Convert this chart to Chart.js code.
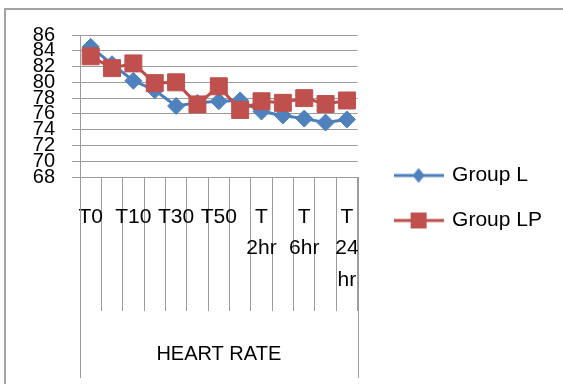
<!DOCTYPE html>
<html>
<head>
<meta charset="utf-8">
<script src="https://cdn.jsdelivr.net/npm/chart.js@4.4.1/dist/chart.umd.min.js"></script>
<style>
  body { margin: 0; background: #fff; }
  #wrap { position: relative; width: 563px; height: 384px; }
  #frame { position: absolute; left: 4px; top: 8px; right: 0; bottom: 0;
           border-left: 2px solid #a3a3a3; border-top: 2px solid #a3a3a3; pointer-events: none; }
</style>
</head>
<body>
<div id="wrap">
  <canvas id="hrChart" width="563" height="384"></canvas>
  <div id="frame"></div>
</div>
<script>
const categories = ['T0', 'T5', 'T10', 'T20', 'T30', 'T40', 'T50', 'T 1hr', 'T 2hr', 'T 4hr', 'T 6hr', 'T 12hr', 'T 24 hr'];
const groupL  = [84.5, 82.3, 80.2, 79.0, 77.0, 77.4, 77.6, 77.7, 76.3, 75.8, 75.4, 74.9, 75.3];
const groupLP = [83.3, 81.8, 82.4, 79.9, 80.0, 77.2, 79.5, 76.5, 77.6, 77.4, 78.0, 77.25, 77.7];
const yMin = 68, yMax = 86, yStep = 2;
const axisTitle = 'HEART RATE';

const gridColor = '#9c9c9c';
Chart.defaults.font.family = '"Liberation Sans", Arial, sans-serif';

// legend sample: short line with the marker in the middle
function legendSample(lineColor, fill, shape) {
    const c = document.createElement('canvas');
    c.width = 50; c.height = 20;
    const g = c.getContext('2d');
    g.strokeStyle = lineColor;
    g.lineWidth = 3;
    g.beginPath(); g.moveTo(0, 10); g.lineTo(50, 10); g.stroke();
    g.fillStyle = fill;
    g.beginPath();
    if (shape === 'diamond') {
        g.moveTo(25, 2.5); g.lineTo(31, 10); g.lineTo(25, 17.5); g.lineTo(19, 10);
    } else {
        g.rect(17, 2, 16, 16);
    }
    g.fill();
    return c;
}
const samples = [
    legendSample('#4A7EBB', '#4F81BD', 'diamond'),
    legendSample('#BE4B48', '#C0504D', 'square')
];

// the outer divider lines of the category axis run down past the tick marks
const categoryFrame = {
    id: 'categoryFrame',
    afterDraw(chart) {
        const { ctx, chartArea, scales: { x } } = chart;
        ctx.save();
        ctx.strokeStyle = gridColor;
        ctx.lineWidth = 1;
        ctx.beginPath();
        [x.left, x.right].forEach(px => {
            const p = Math.round(px) + 0.5;
            ctx.moveTo(p, chartArea.bottom);
            ctx.lineTo(p, chart.height - 6);
        });
        ctx.stroke();
        ctx.restore();
    }
};

new Chart(document.getElementById('hrChart'), {
    type: 'line',
    data: {
        labels: categories,
        datasets: [{
            label: 'Group L',
            data: groupL,
            order: 1,
            borderColor: '#4A7EBB',
            backgroundColor: '#4F81BD',
            borderWidth: 3,
            pointStyle: 'rectRot',
            pointRadius: 8.5,
            pointBackgroundColor: '#4F81BD',
            pointBorderColor: '#4F81BD',
            pointBorderWidth: 1,
            tension: 0
        }, {
            label: 'Group LP',
            data: groupLP,
            order: 0,
            borderColor: '#BE4B48',
            backgroundColor: '#C0504D',
            borderWidth: 3,
            pointStyle: 'rect',
            pointRadius: 12,
            pointBackgroundColor: '#C0504D',
            pointBorderColor: '#C0504D',
            pointBorderWidth: 1,
            tension: 0
        }]
    },
    options: {
        responsive: false,
        animation: false,
        layout: { padding: { top: 35, bottom: 23, left: 0, right: 11 } },
        plugins: {
            tooltip: { enabled: false },
            legend: {
                position: 'right',
                maxWidth: 220,
                labels: {
                    usePointStyle: true,
                    pointStyleWidth: 46,
                    padding: 24,
                    color: '#000',
                    font: { size: 21 },
                    generateLabels: chart => Chart.defaults.plugins.legend.labels.generateLabels(chart)
                        .sort((a, b) => a.datasetIndex - b.datasetIndex)
                        .map(item => Object.assign(item, { pointStyle: samples[item.datasetIndex] }))
                }
            }
        },
        scales: {
            x: {
                offset: true,
                grid: { offset: true, drawOnChartArea: false, drawTicks: true, tickLength: 134, color: gridColor },
                border: { color: gridColor },
                ticks: {
                    autoSkip: false,
                    maxRotation: 0,
                    padding: -110,
                    color: '#000',
                    font: { size: 21, lineHeight: 1.5 },
                    callback: (v, i) => i % 2 ? '' : categories[i].split(' ')
                },
                title: {
                    display: true,
                    text: axisTitle,
                    color: '#000',
                    font: { size: 20 },
                    padding: { top: 0, bottom: -5 }
                },
                afterFit: s => { s.height = 184; }
            },
            y: {
                min: yMin,
                max: yMax,
                grid: { color: gridColor, tickLength: 8 },
                border: { color: gridColor },
                ticks: {
                    stepSize: yStep,
                    autoSkip: false,
                    padding: 17,
                    color: '#000',
                    font: { size: 20 }
                },
                afterFit: s => { s.width = 80; }
            },
            spacer: {
                axis: 'y',
                position: 'right',
                grid: { display: false },
                border: { display: false },
                ticks: { display: false },
                afterFit: s => { s.width = 14; }
            }
        }
    },
    plugins: [categoryFrame]
});
</script>
</body>
</html>
